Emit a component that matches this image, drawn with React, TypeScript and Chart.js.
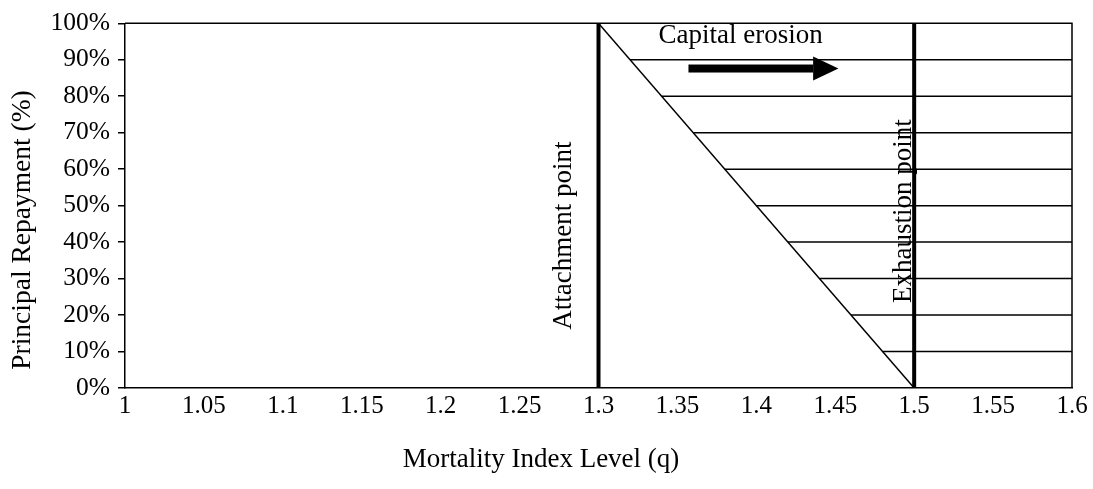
import React, { useEffect, useRef } from "react";
import { Chart, registerables } from "chart.js";

Chart.register(...registerables);

// ---- data ----
const xTickValues = [1, 1.05, 1.1, 1.15, 1.2, 1.25, 1.3, 1.35, 1.4, 1.45, 1.5, 1.55, 1.6];
const yTickValues = [0, 10, 20, 30, 40, 50, 60, 70, 80, 90, 100];
const attachmentPoint = 1.3;
const exhaustionPoint = 1.5;
const repaymentLine = [
  { x: 1.3, y: 100 },
  { x: 1.5, y: 0 },
];
const erosionLevels = [90, 80, 70, 60, 50, 40, 30, 20, 10];
const erosionStartX = [1.32, 1.34, 1.36, 1.38, 1.4, 1.42, 1.44, 1.46, 1.48];
const erosionEndX = 1.6;

const xTitle = "Mortality Index Level (q)";
const yTitle = "Principal Repayment (%)";
const attachmentLabel = "Attachment point";
const exhaustionLabel = "Exhaustion point";
const erosionLabel = "Capital erosion";

const FONT = "'Liberation Serif', 'Times New Roman', serif";

function fmtX(v: number) {
  return String(Number(v.toFixed(2)));
}

const annotationPlugin = {
  id: "annotations",
  afterDraw(chart: any) {
    const { ctx, chartArea, scales } = chart;
    const xs = scales.x;
    const ys = scales.y;
    ctx.save();
    // frame top & right
    ctx.strokeStyle = "#000";
    ctx.lineWidth = 1.5;
    ctx.beginPath();
    ctx.moveTo(chartArea.left, chartArea.top);
    ctx.lineTo(chartArea.right, chartArea.top);
    ctx.lineTo(chartArea.right, chartArea.bottom);
    ctx.stroke();

    ctx.fillStyle = "#000";
    ctx.font = `27px ${FONT}`;

    // Capital erosion text
    ctx.textAlign = "center";
    ctx.textBaseline = "alphabetic";
    ctx.fillText(erosionLabel, xs.getPixelForValue(1.39), chartArea.top + 20);

    // arrow
    const ay = ys.getPixelForValue(87.6);
    const x0 = xs.getPixelForValue(1.357);
    const xb = xs.getPixelForValue(1.436);
    const xt = xs.getPixelForValue(1.452);
    ctx.fillRect(x0, ay - 4, xb - x0, 8);
    ctx.beginPath();
    ctx.moveTo(xb, ay - 12);
    ctx.lineTo(xt, ay);
    ctx.lineTo(xb, ay + 12);
    ctx.closePath();
    ctx.fill();

    // rotated labels
    const rot = (text: string, x: number, y: number, size: number) => {
      ctx.save();
      ctx.translate(x, y);
      ctx.rotate(-Math.PI / 2);
      ctx.font = `${size}px ${FONT}`;
      ctx.textAlign = "center";
      ctx.textBaseline = "alphabetic";
      ctx.fillText(text, 0, 0);
      ctx.restore();
    };
    rot(attachmentLabel, xs.getPixelForValue(attachmentPoint) - 28, ys.getPixelForValue(41.8), 27);
    rot(exhaustionLabel, xs.getPixelForValue(exhaustionPoint) - 3, ys.getPixelForValue(48.5), 27);

    // axis titles
    rot(yTitle, 30, 230, 27.5);
    ctx.font = `27px ${FONT}`;
    ctx.textAlign = "center";
    ctx.textBaseline = "alphabetic";
    ctx.fillText(xTitle, 541, 467);
    ctx.restore();
  },
};

export default function App() {
  const ref = useRef<HTMLCanvasElement | null>(null);
  useEffect(() => {
    if (!ref.current) return;
    const lineDs = (data: { x: number; y: number }[], width: number) => ({
      data,
      borderColor: "#000",
      backgroundColor: "#000",
      borderWidth: width,
      showLine: true,
      pointRadius: 0,
      fill: false,
      tension: 0,
    });
    const datasets: any[] = [
      lineDs(
        [
          { x: attachmentPoint, y: 0 },
          { x: attachmentPoint, y: 100 },
        ],
        4
      ),
      lineDs(
        [
          { x: exhaustionPoint, y: 0 },
          { x: exhaustionPoint, y: 100 },
        ],
        4
      ),
      lineDs(repaymentLine, 1.5),
      ...erosionLevels.map((lvl, i) =>
        lineDs(
          [
            { x: erosionStartX[i], y: lvl },
            { x: erosionEndX, y: lvl },
          ],
          1.5
        )
      ),
    ];
    const chart = new Chart(ref.current, {
      type: "scatter",
      data: { datasets },
      options: {
        animation: false,
        responsive: true,
        maintainAspectRatio: false,
        layout: { padding: { left: 0, top: 17, right: 21, bottom: 0 } },
        plugins: { legend: { display: false }, tooltip: { enabled: false } },
        scales: {
          x: {
            type: "linear",
            min: 1,
            max: 1.6,
            afterBuildTicks: (s: any) => {
              s.ticks = xTickValues.map((v) => ({ value: v }));
            },
            afterFit: (s: any) => {
              s.height = 101;
            },
            grid: { display: false, drawTicks: false },
            border: { display: true, color: "#000", width: 1.5 },
            ticks: {
              color: "#000",
              font: { family: FONT, size: 25 },
              padding: 3,
              maxRotation: 0,
              autoSkip: false,
              callback: (v: any) => fmtX(Number(v)),
            },
          },
          y: {
            type: "linear",
            min: 0,
            max: 100,
            afterBuildTicks: (s: any) => {
              s.ticks = yTickValues.map((v) => ({ value: v }));
            },
            afterFit: (s: any) => {
              s.width = 125;
            },
            grid: {
              display: true,
              drawOnChartArea: false,
              drawTicks: true,
              tickLength: 7,
              color: "#000",
              lineWidth: 1.5,
            },
            border: { display: true, color: "#000", width: 1.5 },
            ticks: {
              color: "#000",
              font: { family: FONT, size: 25.5 },
              padding: 8,
              autoSkip: false,
              callback: (v: any) => `${v}%`,
            },
          },
        },
      },
      plugins: [annotationPlugin],
    });
    return () => chart.destroy();
  }, []);
  return (
    <div style={{ position: "absolute", left: 0, top: 0, width: 1093, height: 489, background: "#fff" }}>
      <canvas ref={ref} />
    </div>
  );
}
